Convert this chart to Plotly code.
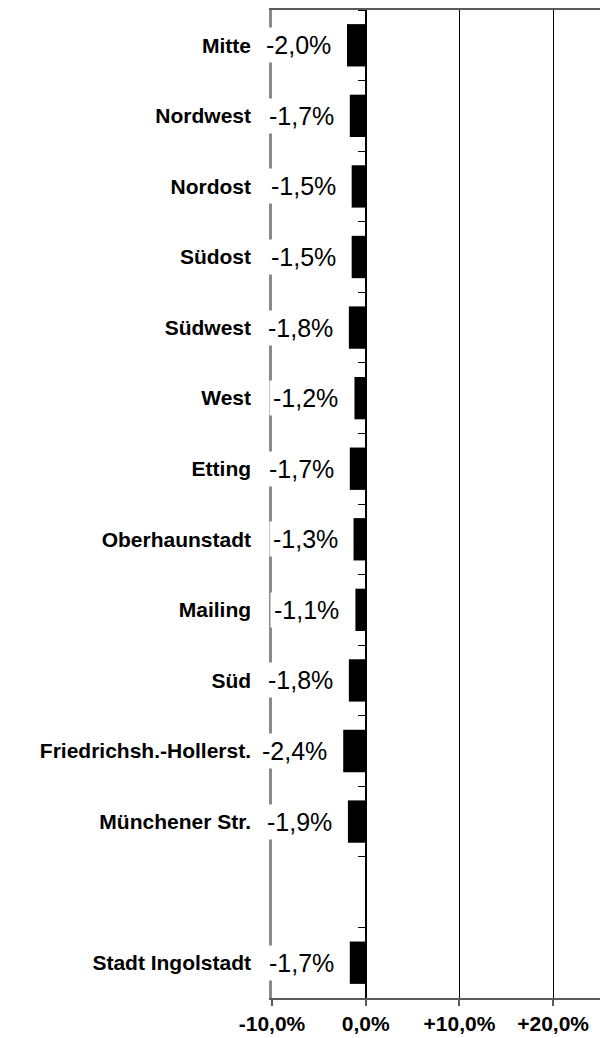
import plotly.graph_objects as go

# Districts, top to bottom; the blank entry leaves an empty row before the city total
districts = [
    "Mitte", "Nordwest", "Nordost", "Südost", "Südwest", "West", "Etting",
    "Oberhaunstadt", "Mailing", "Süd", "Friedrichsh.-Hollerst.", "Münchener Str.",
    " ", "Stadt Ingolstadt",
]
change_pct = [-2.0, -1.7, -1.5, -1.5, -1.8, -1.2, -1.7, -1.3, -1.1, -1.8, -2.4, -1.9, None, -1.7]

x_tickvals = [-10, 0, 10, 20]
x_ticktext = ["-10,0%", "0,0%", "+10,0%", "+20,0%"]
x_range = [-10, 25]

FONT = "Arial, Liberation Sans, sans-serif"


def fmt(v):
    return f"{v:.1f}".replace(".", ",") + "%"


fig = go.Figure()

fig.add_trace(go.Bar(
    x=change_pct, y=districts, orientation="h",
    marker=dict(color="black", line=dict(width=0)),
    width=0.6, hoverinfo="skip", showlegend=False,
))

# helper trace so the zero-line axis carries the same categories
fig.add_trace(go.Scatter(
    x=[0] * len(districts), y=districts, yaxis="y2", mode="markers",
    marker=dict(opacity=0), hoverinfo="skip", showlegend=False,
))

# value labels with a white box, placed left of each bar
for name, v in zip(districts, change_pct):
    if v is None:
        continue
    fig.add_annotation(
        x=v, y=name, xref="x", yref="y", text=fmt(v), showarrow=False,
        xanchor="right", xshift=-12, bgcolor="white", borderpad=3,
        font=dict(family=FONT, size=25, color="black"),
    )

n = len(districts)
fig.update_layout(
    width=600, height=1038,
    margin=dict(l=272, r=0, t=10, b=40),
    plot_bgcolor="white", paper_bgcolor="white",
    bargap=0.4,
    xaxis=dict(
        range=x_range, tickvals=x_tickvals, ticktext=x_ticktext,
        showgrid=True, gridcolor="black", gridwidth=1, zeroline=False,
        showline=True, linecolor="#5a5a5a", linewidth=2, mirror=True,
        ticks="outside", ticklen=6, tickcolor="#5a5a5a", tickwidth=1.5,
        tickfont=dict(family=FONT, size=21, color="black", weight="bold"),
        fixedrange=True,
    ),
    yaxis=dict(
        type="category", categoryorder="array", categoryarray=districts,
        range=[n - 0.5, -0.5],
        showline=True, linecolor="#8a8a8a", linewidth=2.5,
        showgrid=False, ticks="", ticklabelstandoff=14,
        tickfont=dict(family=FONT, size=21, color="black", weight="bold"),
        fixedrange=True,
    ),
    yaxis2=dict(
        type="category", categoryorder="array", categoryarray=districts,
        range=[n - 0.5, -0.5],
        overlaying="y", anchor="free",
        position=(0 - x_range[0]) / (x_range[1] - x_range[0]),
        side="left",
        showline=True, linecolor="black", linewidth=1.5,
        showgrid=False, ticks="outside", tickson="boundaries",
        ticklen=7, tickcolor="black", tickwidth=1,
        showticklabels=False, fixedrange=True,
    ),
)

fig.write_html("out.html")
